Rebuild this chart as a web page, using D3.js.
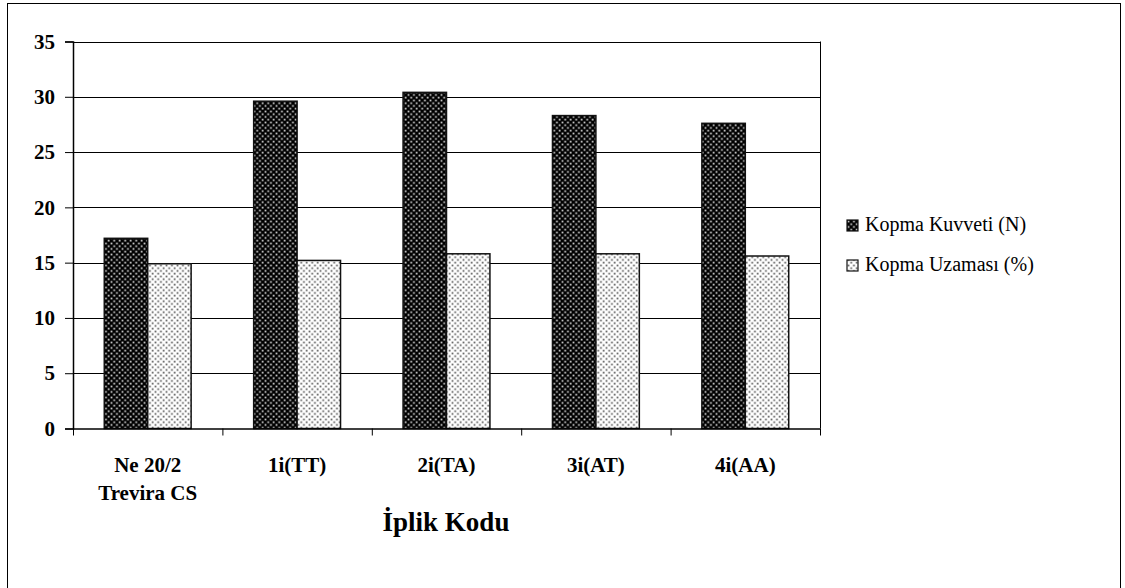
<!DOCTYPE html>
<html>
<head>
<meta charset="utf-8">
<script src="https://cdn.jsdelivr.net/npm/d3@7"></script>
<style>
  html, body { margin: 0; padding: 0; background: #fff; }
  svg { display: block; }
  svg text { font-family: "Liberation Serif", "Times New Roman", Tinos, "DejaVu Serif", serif; }
</style>
</head>
<body>
<svg id="chart" width="1125" height="588"></svg>
<script>
// Yarn codes and their measured properties
const categories = ["Ne 20/2|Trevira CS", "1i(TT)", "2i(TA)", "3i(AT)", "4i(AA)"];
const kopmaKuvveti = [17.2, 29.6, 30.4, 28.3, 27.6];
const kopmaUzamasi = [14.9, 15.2, 15.8, 15.8, 15.6];
const seriesNames = ["Kopma Kuvveti (N)", "Kopma Uzaması (%)"];
const yTicks = [0, 5, 10, 15, 20, 25, 30, 35];
const axisTitle = "İplik Kodu";

const svg = d3.select("#chart");

// dotted fills
const defs = svg.append("defs");
function dotPattern(id, bg, dot) {
  const p = defs.append("pattern")
    .attr("id", id).attr("patternUnits", "userSpaceOnUse")
    .attr("width", 5.5).attr("height", 5.5);
  p.append("rect").attr("width", 5.5).attr("height", 5.5).attr("fill", bg);
  p.append("rect").attr("x", 0.6).attr("y", 0.6).attr("width", 1.7).attr("height", 1.7).attr("fill", dot);
  p.append("rect").attr("x", 3.35).attr("y", 3.35).attr("width", 1.7).attr("height", 1.7).attr("fill", dot);
}
dotPattern("darkDots", "#000", "#e0e0e0");
dotPattern("lightDots", "#fff", "#555");
const fills = ["url(#darkDots)", "url(#lightDots)"];

// outer frame
svg.append("rect").attr("x", 7.5).attr("y", 3.5).attr("width", 1113).attr("height", 600)
  .attr("fill", "none").attr("stroke", "#000").attr("stroke-width", 1);

const plot = { left: 73, right: 820, top: 41.5, bottom: 428.5 };

const x = d3.scaleBand().domain(categories).range([plot.left, plot.right]).paddingInner(0).paddingOuter(0);
const y = d3.scaleLinear().domain([0, 35]).range([plot.bottom, plot.top]);
const inner = d3.scaleBand().domain([0, 1]).range([0, x.bandwidth()]).paddingInner(0).paddingOuter(0.72);

// gridlines
svg.append("g").selectAll("line").data(yTicks.filter(d => d > 0)).join("line")
  .attr("x1", plot.left).attr("x2", plot.right)
  .attr("y1", d => Math.round(y(d)) + 0.5).attr("y2", d => Math.round(y(d)) + 0.5)
  .attr("stroke", "#000").attr("stroke-width", 1);

// right edge of plot area
svg.append("line").attr("x1", plot.right + 0.5).attr("x2", plot.right + 0.5)
  .attr("y1", y(35)).attr("y2", y(0)).attr("stroke", "#000");

// bars
const series = [kopmaKuvveti, kopmaUzamasi];
series.forEach((vals, si) => {
  svg.append("g").selectAll("rect").data(vals).join("rect")
    .attr("x", (d, i) => x(categories[i]) + inner(si))
    .attr("y", d => y(d))
    .attr("width", inner.bandwidth())
    .attr("height", d => y(0) - y(d))
    .attr("fill", fills[si])
    .attr("stroke", "#111").attr("stroke-width", 1.5);
});

// y axis
const yAxis = svg.append("g").attr("transform", `translate(${plot.left},0)`)
  .call(d3.axisLeft(y).tickValues(yTicks).tickSize(8).tickPadding(10).tickFormat(d3.format("d")));
yAxis.attr("font-family", null);
yAxis.select(".domain").attr("stroke", "#000").attr("stroke-width", 1.5);
yAxis.selectAll(".tick line").attr("stroke", "#000").attr("stroke-width", 1);
yAxis.selectAll(".tick text").attr("font-size", 21)
  .attr("font-weight", "bold").attr("fill", "#000");

// x axis
const xAxis = svg.append("g").attr("transform", `translate(0,${plot.bottom})`)
  .call(d3.axisBottom(x).tickSize(0).tickFormat(""));
xAxis.select(".domain").attr("stroke", "#000").attr("stroke-width", 1.5);
xAxis.selectAll(".tick").remove();

// category boundary ticks
const bounds = categories.map(c => x(c)).concat([plot.right]);
svg.append("g").selectAll("line").data(bounds).join("line")
  .attr("x1", d => d + 0.5).attr("x2", d => d + 0.5)
  .attr("y1", plot.bottom).attr("y2", plot.bottom + 7)
  .attr("stroke", "#000");

// category labels
const labels = svg.append("g");
categories.forEach(c => {
  const lines = c.split("|");
  lines.forEach((ln, li) => {
    labels.append("text")
      .attr("x", x(c) + x.bandwidth() / 2)
      .attr("y", 472 + li * 28)
      .attr("text-anchor", "middle")
      .attr("font-size", 21).attr("font-weight", "bold")
      .text(ln);
  });
});

// axis title
svg.append("text").attr("x", 446).attr("y", 531).attr("text-anchor", "middle")
  .attr("font-size", 27).attr("font-weight", "bold")
  .text(axisTitle);

// legend
const legend = svg.append("g");
seriesNames.forEach((name, i) => {
  const ly = 225 + i * 40;
  legend.append("rect").attr("x", 847).attr("y", ly - 5).attr("width", 11).attr("height", 11)
    .attr("fill", fills[i]).attr("stroke", "#111").attr("stroke-width", 1.2);
  legend.append("text").attr("x", 865).attr("y", ly + 6)
    .attr("font-size", 20).text(name);
});
</script>
</body>
</html>
